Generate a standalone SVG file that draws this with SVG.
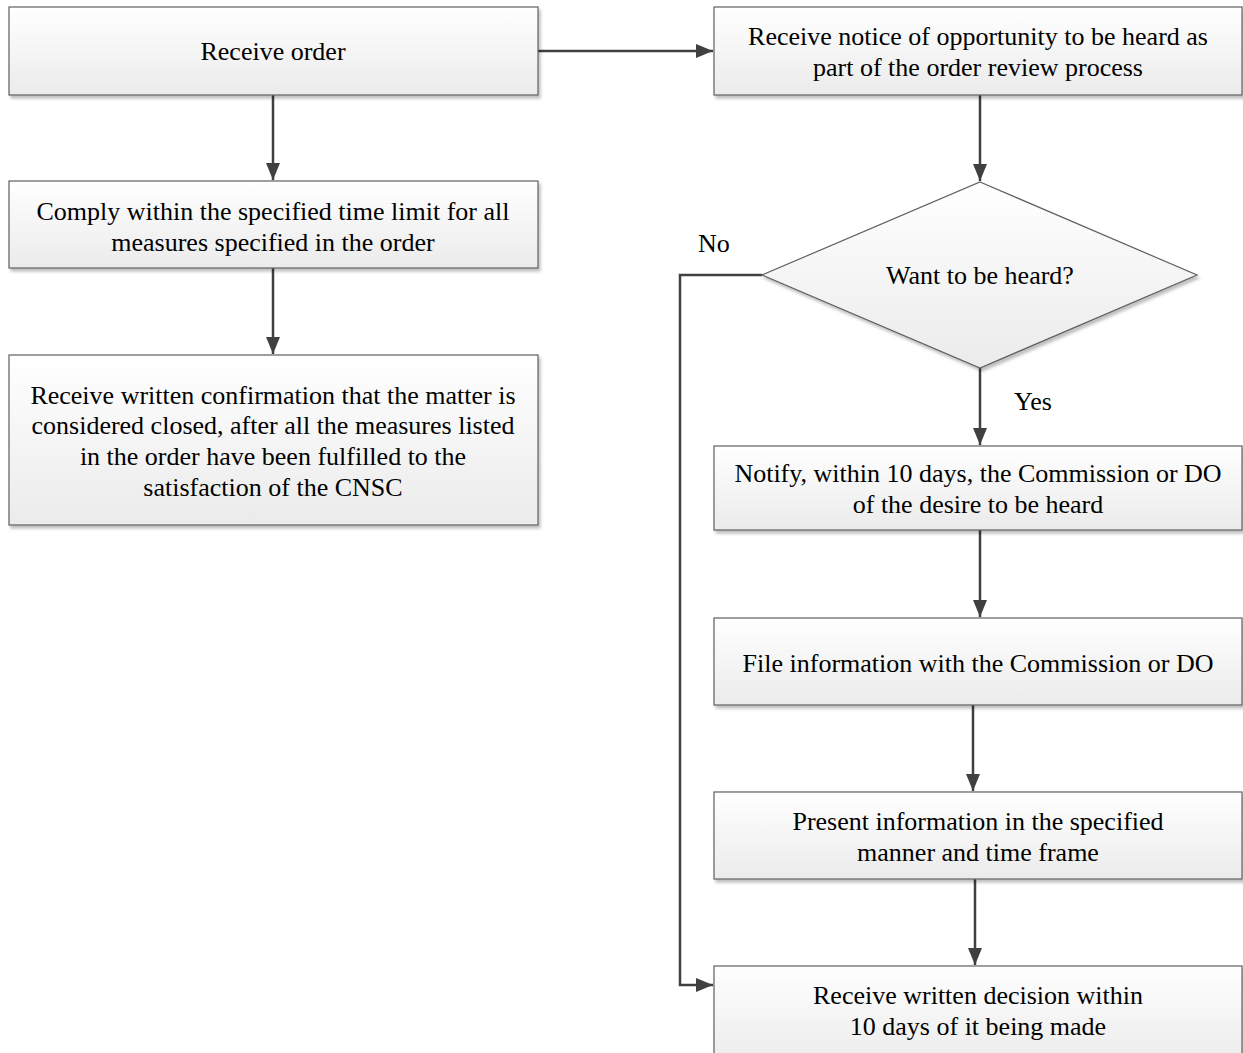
<svg xmlns="http://www.w3.org/2000/svg" width="1243" height="1053" viewBox="0 0 1243 1053">
<style>
.box{fill:url(#g);stroke:#5f5f5f;stroke-width:1.2;filter:url(#sh)}
.t{font-family:"Liberation Serif","Times New Roman",serif;font-size:26px;fill:#000;text-anchor:middle}
.lbl{font-family:"Liberation Serif","Times New Roman",serif;font-size:26px;fill:#000}
.c{fill:none;stroke:#404040;stroke-width:2.5}
</style>
<defs>
<linearGradient id="g" x1="0" y1="0" x2="0" y2="1">
<stop offset="0" stop-color="#ffffff"/>
<stop offset="1" stop-color="#ebebeb"/>
</linearGradient>
<filter id="sh" x="-5%" y="-10%" width="110%" height="130%">
<feDropShadow dx="2" dy="3" stdDeviation="1.5" flood-color="#000" flood-opacity="0.25"/>
</filter>
<marker id="ah" markerUnits="userSpaceOnUse" markerWidth="18" markerHeight="18" viewBox="0 0 18 18" refX="17" refY="9" orient="auto">
<path d="M0,2 L17,9 L0,16 Z" fill="#404040"/>
</marker>
</defs>
<rect width="1243" height="1053" fill="#fff"/>

<g id="connectors">
<path class="c" d="M273,95 V180" marker-end="url(#ah)"/>
<path class="c" d="M273,268 V354" marker-end="url(#ah)"/>
<path class="c" d="M538,51 H713" marker-end="url(#ah)"/>
<path class="c" d="M980,95 V181" marker-end="url(#ah)"/>
<path class="c" d="M762,275 H680 V985 H713" marker-end="url(#ah)"/>
<path class="c" d="M980,368 V445" marker-end="url(#ah)"/>
<path class="c" d="M980,530 V617" marker-end="url(#ah)"/>
<path class="c" d="M973,705 V791" marker-end="url(#ah)"/>
<path class="c" d="M975,879 V965" marker-end="url(#ah)"/>
<text class="lbl" x="698" y="252">No</text>
<text class="lbl" x="1014" y="410">Yes</text>
</g>

<g id="receive-order">
<rect class="box" x="9" y="7" width="529" height="88"/>
<text class="t" x="273" y="60">Receive order</text>
</g>
<g id="comply">
<rect class="box" x="9" y="181" width="529" height="87"/>
<text class="t" x="273" y="220">Comply within the specified time limit for all</text>
<text class="t" x="273" y="251">measures specified in the order</text>
</g>
<g id="confirmation">
<rect class="box" x="9" y="355" width="529" height="170"/>
<text class="t" x="273" y="404">Receive written confirmation that the matter is</text>
<text class="t" x="273" y="434">considered closed, after all the measures listed</text>
<text class="t" x="273" y="465">in the order have been fulfilled to the</text>
<text class="t" x="273" y="496">satisfaction of the CNSC</text>
</g>
<g id="notice">
<rect class="box" x="714" y="7" width="528" height="88"/>
<text class="t" x="978" y="45">Receive notice of opportunity to be heard as</text>
<text class="t" x="978" y="76">part of the order review process</text>
</g>
<g id="want-heard">
<polygon class="box" points="980,182 1197,275 980,368 762,275"/>
<text class="t" x="980" y="284">Want to be heard?</text>
</g>
<g id="notify">
<rect class="box" x="714" y="446" width="528" height="84"/>
<text class="t" x="978" y="482">Notify, within 10 days, the Commission or DO</text>
<text class="t" x="978" y="513">of the desire to be heard</text>
</g>
<g id="file-info">
<rect class="box" x="714" y="618" width="528" height="87"/>
<text class="t" x="978" y="672">File information with the Commission or DO</text>
</g>
<g id="present">
<rect class="box" x="714" y="792" width="528" height="87"/>
<text class="t" x="978" y="830">Present information in the specified</text>
<text class="t" x="978" y="861">manner and time frame</text>
</g>
<g id="decision">
<rect class="box" x="714" y="966" width="528" height="100"/>
<text class="t" x="978" y="1004">Receive written decision within</text>
<text class="t" x="978" y="1035">10 days of it being made</text>
</g>
</svg>
